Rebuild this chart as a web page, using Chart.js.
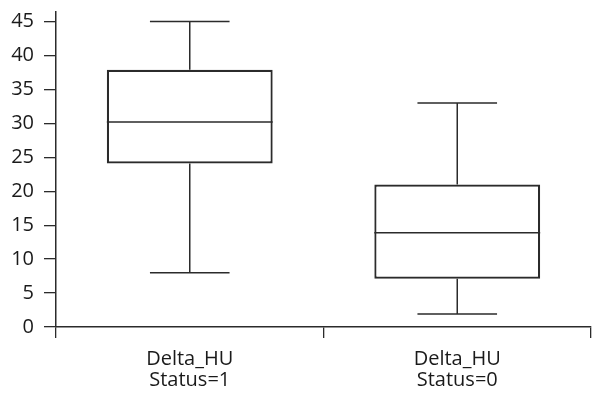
<!DOCTYPE html>
<html>
<head>
<meta charset="utf-8">
<script src="https://cdn.jsdelivr.net/npm/chart.js@4/dist/chart.umd.min.js"></script>
<style>
  html, body { margin: 0; padding: 0; background: #fff; }
  #wrap { width: 592px; height: 398px; position: relative; }
</style>
</head>
<body>
<div id="wrap"><canvas id="c"></canvas></div>
<script>
const categories = [["Delta_HU", "Status=1"], ["Delta_HU", "Status=0"]];
const whiskerMin = [8.0, 1.9];
const q1 = [24.1, 7.1];
const median = [30.2, 13.9];
const q3 = [37.9, 21.0];
const whiskerMax = [45.0, 33.0];
const yTicks = [0, 5, 10, 15, 20, 25, 30, 35, 40, 45];

const INK = '#2b2b2b';
const FONT = '"Open Sans", "DejaVu Sans", sans-serif';

const boxPlugin = {
  id: 'boxWhiskers',
  afterDatasetsDraw(chart) {
    const ctx = chart.ctx;
    const y = chart.scales.y;
    const meta = chart.getDatasetMeta(0);
    ctx.save();
    ctx.strokeStyle = INK;
    ctx.lineWidth = 1.5;
    meta.data.forEach((bar, i) => {
      const cx = bar.x;
      const half = bar.width / 2;
      const capHalf = bar.width * 0.24;
      const pMin = y.getPixelForValue(whiskerMin[i]);
      const pMax = y.getPixelForValue(whiskerMax[i]);
      const pQ1 = y.getPixelForValue(q1[i]);
      const pQ3 = y.getPixelForValue(q3[i]);
      const pMed = y.getPixelForValue(median[i]);
      ctx.beginPath();
      ctx.moveTo(cx, pQ3); ctx.lineTo(cx, pMax);
      ctx.moveTo(cx - capHalf, pMax); ctx.lineTo(cx + capHalf, pMax);
      ctx.moveTo(cx, pQ1); ctx.lineTo(cx, pMin);
      ctx.moveTo(cx - capHalf, pMin); ctx.lineTo(cx + capHalf, pMin);
      ctx.moveTo(cx - half, pMed); ctx.lineTo(cx + half, pMed);
      ctx.stroke();
    });
    ctx.restore();
  }
};

new Chart(document.getElementById('c'), {
  type: 'bar',
  data: {
    labels: categories,
    datasets: [{
      data: q1.map((v, i) => [v, q3[i]]),
      backgroundColor: '#ffffff',
      borderColor: INK,
      borderWidth: 2.2,
      borderSkipped: false,
      categoryPercentage: 1,
      barPercentage: 0.62
    }]
  },
  options: {
    responsive: true,
    maintainAspectRatio: false,
    animation: false,
    layout: { padding: { top: 12, right: 1, bottom: 0, left: 0 } },
    plugins: { legend: { display: false }, tooltip: { enabled: false } },
    scales: {
      x: {
        offset: true,
        afterFit: (axis) => { axis.height = 71; },
        grid: { display: true, drawOnChartArea: false, drawTicks: true, tickLength: 11, color: INK, lineWidth: 1.3, offset: true },
        border: { display: true, color: INK, width: 1.5 },
        ticks: { color: '#1a1a1a', font: { family: FONT, size: 20, lineHeight: 1.05 }, padding: 11, maxRotation: 0 }
      },
      y: {
        min: 0,
        max: 46.4,
        afterBuildTicks: (axis) => { axis.ticks = yTicks.map(v => ({ value: v })); },
        afterFit: (axis) => { axis.width = 56; axis.paddingTop = 0; axis.paddingBottom = 0; },
        grid: { display: true, drawOnChartArea: false, drawTicks: true, tickLength: 12, color: INK, lineWidth: 1.3 },
        border: { display: true, color: INK, width: 1.5 },
        ticks: { color: '#1a1a1a', font: { family: FONT, size: 20 }, padding: 10 }
      }
    }
  },
  plugins: [boxPlugin]
});
</script>
</body>
</html>
